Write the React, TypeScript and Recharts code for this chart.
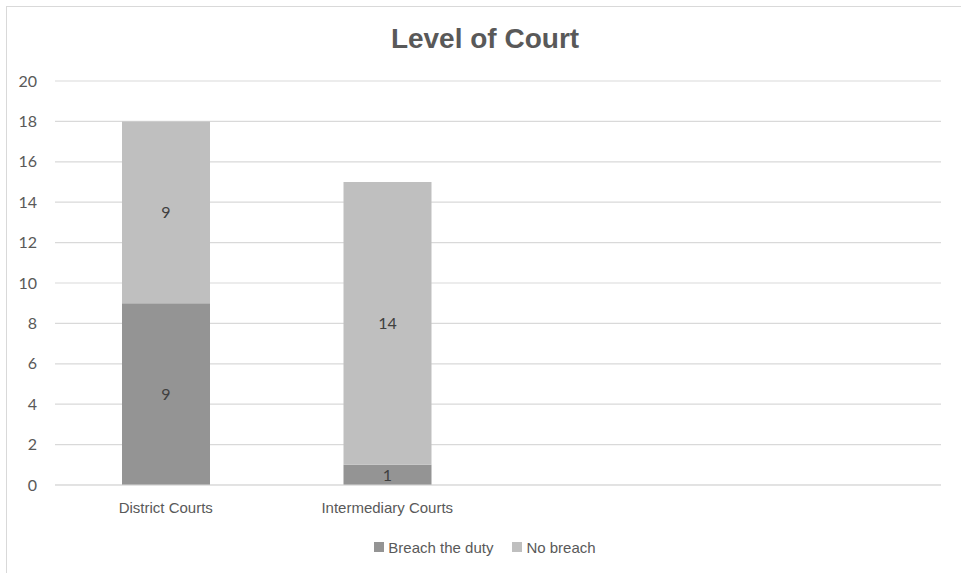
import React from 'react'
import {
  BarChart,
  Bar,
  XAxis,
  YAxis,
  CartesianGrid,
  Legend,
  LabelList,
} from 'recharts'

// Court levels (the last two slots are left empty on purpose)
const courts = ['District Courts', 'Intermediary Courts', ' ', '  ']
const breachTheDuty = [9, 1, null, null]
const noBreach = [9, 14, null, null]
const yTicks = [0, 2, 4, 6, 8, 10, 12, 14, 16, 18, 20]

const DARK = '#949494'
const LIGHT = '#bfbfbf'
const TEXT = '#595959'

const data = courts.map((court, i) => ({
  court,
  breach: breachTheDuty[i],
  none: noBreach[i],
}))

const narrow = '"Liberation Sans Narrow", "Arial Narrow", "Liberation Sans", Arial, sans-serif'
const body = 'Lato, Calibri, "Open Sans", sans-serif'

const LegendContent = () => (
  <div
    style={{
      display: 'flex',
      justifyContent: 'center',
      gap: 19,
      fontFamily: narrow,
      fontSize: 15,
      color: TEXT,
      height: 24,
      alignItems: 'center',
      paddingLeft: 14,
    }}
  >
    {[
      { name: 'Breach the duty', color: DARK },
      { name: 'No breach', color: LIGHT },
    ].map((item) => (
      <span key={item.name} style={{ display: 'flex', alignItems: 'center' }}>
        <span
          style={{
            width: 10,
            height: 10,
            background: item.color,
            display: 'inline-block',
            marginRight: 4,
          }}
        />
        {item.name}
      </span>
    ))}
  </div>
)

const App: React.FC = () => {
  return (
    <div
      style={{
        position: 'absolute',
        left: 0,
        top: 0,
        width: 961,
        height: 573,
        overflow: 'hidden',
        background: '#fff',
      }}
    >
      <div
        style={{
          position: 'absolute',
          left: 6,
          top: 6,
          width: 970,
          height: 580,
          border: '1px solid #d9d9d9',
        }}
      />
      <div
        style={{
          position: 'absolute',
          left: 0,
          top: 23,
          width: 970,
          textAlign: 'center',
          fontFamily: '"Liberation Sans", Arial, sans-serif',
          fontWeight: 'bold',
          fontSize: 28,
          color: TEXT,
        }}
      >
        Level of Court
      </div>
      <div style={{ position: 'absolute', left: 0, top: 0 }}>
        <BarChart
          width={961}
          height={573}
          data={data}
          margin={{ top: 81, right: 20, bottom: 14, left: 15 }}
        >
          <CartesianGrid vertical={false} stroke="#d9d9d9" strokeWidth={1.2} />
          <XAxis
            dataKey="court"
            axisLine={{ stroke: '#d9d9d9' }}
            tickLine={false}
            tickSize={0}
            tickMargin={17}
            height={50}
            interval={0}
            tick={{ fill: TEXT, fontSize: 15, fontFamily: narrow }}
          />
          <YAxis
            domain={[0, 20]}
            ticks={yTicks}
            width={40}
            axisLine={false}
            tickLine={false}
            tickSize={0}
            tickMargin={18}
            tick={{ fill: TEXT, fontSize: 16, fontFamily: body }}
          />
          <Legend verticalAlign="bottom" content={<LegendContent />} />
          <Bar dataKey="breach" name="Breach the duty" stackId="a" fill={DARK} barSize={88} isAnimationActive={false}>
            <LabelList dataKey="breach" position="center" fill="#404040" fontSize={16} fontFamily={body} />
          </Bar>
          <Bar dataKey="none" name="No breach" stackId="a" fill={LIGHT} barSize={88} isAnimationActive={false}>
            <LabelList dataKey="none" position="center" fill="#404040" fontSize={16} fontFamily={body} />
          </Bar>
        </BarChart>
      </div>
    </div>
  )
}

export default App
